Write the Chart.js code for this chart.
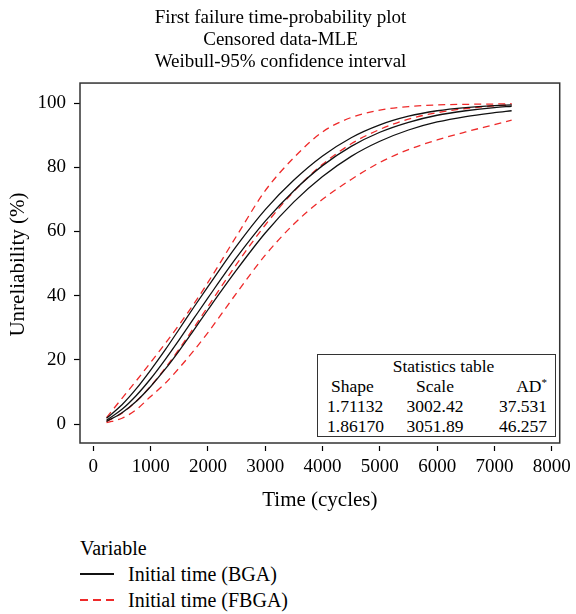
<!DOCTYPE html>
<html>
<head>
<meta charset="utf-8">
<script src="https://cdn.jsdelivr.net/npm/chart.js@4/dist/chart.umd.min.js"></script>
<style>
  html, body { margin: 0; padding: 0; background: #fff; }
  body { width: 576px; height: 614px; position: relative; overflow: hidden; font-family: "Liberation Serif", "DejaVu Serif", serif; color: #000; }
  #wrap { position: absolute; left: 0; top: 0; width: 576px; height: 515px; }
  #stats { position: absolute; left: 317px; top: 354px; width: 237px; height: 81px; border: 1.5px solid #333; background: #fff; font-size: 17.5px; line-height: 20px; }
  #stats .hd { position: absolute; left: 0; width: 100%; top: 1px; text-align: center; padding-left: 14px; box-sizing: border-box; }
  #stats .c1, #stats .c2, #stats .c3 { position: absolute; white-space: nowrap; }
  #stats .ast { position: relative; top: -6px; font-size: 11px; }
  #legend { position: absolute; left: 80px; top: 535px; font-size: 20px; line-height: 26px; }
  .li { display: flex; align-items: center; }
  .sw { width: 34px; height: 1.4px; margin-right: 14px; }
</style>
</head>
<body>
<div id="wrap"><canvas id="c" width="576" height="515"></canvas></div>
<div id="stats"></div>
<div id="legend"></div>
<script>
// ---- data ----
const timeCycles = [230, 500, 750, 1000, 1250, 1500, 1750, 2000, 2500, 3000, 3500, 4000, 4500, 5000, 5500, 6000, 6500, 7000, 7300];

const bgaFit   = [1.2, 4.6, 8.9, 14.1, 20.0, 26.3, 32.8, 39.3, 51.9, 63.2, 72.7, 80.5, 86.5, 90.9, 94.0, 96.2, 97.6, 98.6, 99.0];
const bgaUpper = [1.8, 6.0, 11.0, 16.8, 23.0, 29.6, 36.3, 42.8, 55.5, 66.8, 76.0, 83.5, 89.2, 93.2, 95.9, 97.6, 98.6, 99.2, 99.4];
const bgaLower = [0.8, 3.5, 7.1, 11.7, 17.0, 22.9, 29.2, 35.6, 48.0, 59.5, 69.2, 77.1, 83.4, 88.1, 91.6, 94.1, 95.8, 97.0, 97.6];

const fbgaFit   = [0.8, 3.4, 7.1, 11.8, 17.3, 23.4, 29.9, 36.6, 49.8, 62.0, 72.5, 80.9, 87.3, 91.8, 95.0, 97.0, 98.3, 99.1, 99.4];
const fbgaUpper = [2.0, 8.0, 13.5, 19.2, 25.0, 31.0, 37.3, 44.1, 58.6, 72.7, 83.0, 91.0, 95.5, 97.8, 98.9, 99.4, 99.6, 99.7, 99.8];
const fbgaLower = [0.4, 1.8, 4.5, 8.6, 12.6, 17.5, 22.8, 28.5, 40.8, 52.6, 62.3, 70.0, 76.2, 81.5, 85.5, 88.5, 91.0, 93.3, 94.7];

const xTickValues = [0, 1000, 2000, 3000, 4000, 5000, 6000, 7000, 8000];
const yTickValues = [0, 20, 40, 60, 80, 100];

const titleLines = ["First failure time-probability plot", "Censored data-MLE", "Weibull-95% confidence interval"];
const seriesNames = ["Initial time (BGA)", "Initial time (FBGA)"];
const statsHeader = ["Shape", "Scale", "AD"];
const statsShape = ["1.71132", "1.86170"];
const statsScale = ["3002.42", "3051.89"];
const statsAD = ["37.531", "46.257"];

// ---- build ----
const pts = arr => arr.map((v, i) => ({ x: timeCycles[i], y: v }));
const BLACK = '#111';
const RED = '#ee2a2a';

function ds(label, data, color, dashed) {
  return {
    label, data: pts(data), borderColor: color, backgroundColor: color,
    borderWidth: 1.3, pointRadius: 0, fill: false,
    borderDash: dashed ? [7, 5] : [], cubicInterpolationMode: 'monotone'
  };
}

const framePlugin = {
  id: 'frame',
  afterDraw(chart) {
    const a = chart.chartArea, ctx = chart.ctx;
    ctx.save();
    ctx.strokeStyle = '#333';
    ctx.lineWidth = 1.5;
    ctx.strokeRect(a.left, a.top, a.right - a.left, a.bottom - 3 - a.top);
    ctx.restore();
  }
};

Chart.defaults.font.family = '"Liberation Serif", "DejaVu Serif", serif';
Chart.defaults.color = '#000';

new Chart(document.getElementById('c'), {
  type: 'line',
  data: {
    datasets: [
      ds(seriesNames[0], bgaFit, BLACK, false),
      ds(seriesNames[0] + ' upper', bgaUpper, BLACK, false),
      ds(seriesNames[0] + ' lower', bgaLower, BLACK, false),
      ds(seriesNames[1], fbgaFit, RED, true),
      ds(seriesNames[1] + ' upper', fbgaUpper, RED, true),
      ds(seriesNames[1] + ' lower', fbgaLower, RED, true)
    ]
  },
  options: {
    responsive: false,
    animation: false,
    layout: { padding: { left: 0, right: 15, top: 0, bottom: 0 } },
    plugins: {
      legend: { display: false },
      tooltip: { enabled: false },
      title: {
        display: true, text: titleLines,
        font: { size: 19, weight: 'normal', lineHeight: 1.15 },
        padding: { top: 7, bottom: 10.5 }, color: '#000'
      }
    },
    scales: {
      x: {
        type: 'linear', min: -233, max: 8139,
        afterBuildTicks: s => { s.ticks = xTickValues.map(v => ({ value: v })); },
        afterFit: s => { s.height = 69; },
        grid: { drawOnChartArea: false, tickLength: 5, tickColor: '#000', tickWidth: 1.2 },
        border: { display: false },
        ticks: { font: { size: 19 }, padding: 5, maxRotation: 0, color: '#000', callback: v => String(v) },
        title: { display: true, text: 'Time (cycles)', font: { size: 21 }, padding: { top: 0, bottom: 2 }, color: '#000' }
      },
      y: {
        type: 'linear', min: -6.85, max: 106.23,
        afterBuildTicks: s => { s.ticks = yTickValues.map(v => ({ value: v })); },
        afterFit: s => { s.width = 80; },
        grid: { drawOnChartArea: false, tickLength: 6, tickColor: '#000', tickWidth: 1.2 },
        border: { display: false },
        ticks: { font: { size: 19 }, padding: 8, color: '#000', callback: v => String(v) },
        title: { display: true, text: 'Unreliability (%)', font: { size: 21 }, padding: { top: 6, bottom: 0 }, color: '#000' }
      }
    }
  },
  plugins: [framePlugin]
});

// stats table (HTML text)
const st = document.getElementById('stats');
let h = '<div class="hd">Statistics table</div>';
const rowsTop = [21, 41, 61];
h += `<div class="c1" style="left:13px;top:${rowsTop[0]}px">${statsHeader[0]}</div>`;
h += `<div class="c2" style="left:117px;top:${rowsTop[0]}px;transform:translateX(-50%)">${statsHeader[1]}</div>`;
h += `<div class="c3" style="right:8px;top:${rowsTop[0]}px">${statsHeader[2]}<span class="ast">*</span></div>`;
for (let i = 0; i < statsShape.length; i++) {
  h += `<div class="c1" style="left:9px;top:${rowsTop[i+1]}px">${statsShape[i]}</div>`;
  h += `<div class="c2" style="left:117px;top:${rowsTop[i+1]}px;transform:translateX(-50%)">${statsScale[i]}</div>`;
  h += `<div class="c3" style="right:8px;top:${rowsTop[i+1]}px">${statsAD[i]}</div>`;
}
st.innerHTML = h;

// legend (HTML text)
const lg = document.getElementById('legend');
lg.innerHTML = '<div>Variable</div>' +
  `<div class="li"><span class="sw" style="background:${BLACK}"></span>${seriesNames[0]}</div>` +
  `<div class="li"><span class="sw" style="background:repeating-linear-gradient(to right, ${RED} 0 8px, transparent 8px 13px)"></span>${seriesNames[1]}</div>`;
</script>
</body>
</html>
